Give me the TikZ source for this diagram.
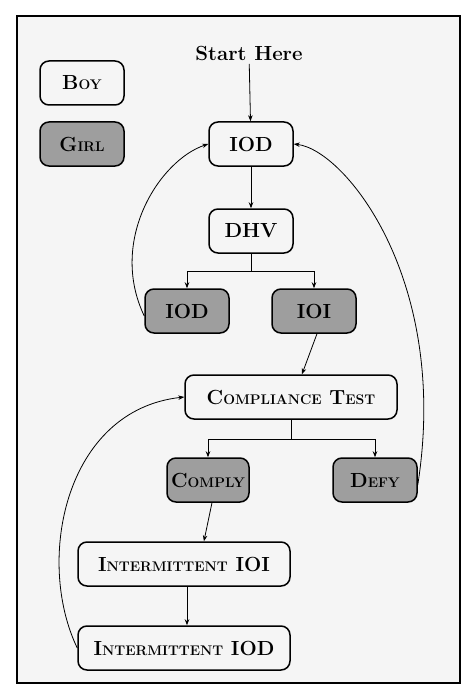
\documentclass[tikz,border=0pt]{standalone}
\usepackage{tikz}
\usetikzlibrary{positioning,arrows.meta}
\newcommand{\smcap}[2]{#1{\fontsize{14}{14}\selectfont #2}}

\begin{document}
\begin{tikzpicture}[x=1bp,y=-1bp,>={Stealth[length=6bp,width=4.5bp]}]
    \tikzstyle{state}=[draw=black,rounded corners=9bp,line width=1.5bp,minimum width=84bp,minimum height=44bp,inner sep=0pt,font=\bfseries\fontsize{20.5}{20.5}\selectfont]
    \tikzstyle{boy state}=[state,fill=black!4]
    \tikzstyle{girl state}=[state,fill=black!38]
    \tikzstyle{long state}=[boy state,minimum width=212bp]
    \tikzstyle{link}=[->,draw=black,line width=0.8bp]

    \useasboundingbox (0,0) rectangle (464,687);
    % Draw the frame
    \draw[line width=1.5bp,fill=black!4] (17,16) rectangle (460,683);

    % Draw the key
    \node[boy state] (key-boy) at (82,83) {\smcap{B}{OY}};
    \node[girl state] (key-girl) at (82,144) {\smcap{G}{IRL}};

    % Draw the first rounds
    \node[font=\bfseries\fontsize{20.5}{20.5}\selectfont] (start) at (249,53) {Start Here};
    \node[boy state] (IOD) at (251,144) {IOD};
    \node[boy state] (DHV) at (251,231) {DHV};
    \node[girl state] (IOD-g) at (187,311) {IOD};
    \node[girl state] (IOI-g) at (314,311) {IOI};

    % Draw the test and the answers
    \node[long state] (test) at (291,397) {\smcap{C}{OMPLIANCE} \smcap{T}{EST}};
    \node[girl state,minimum width=82bp] (comply) at (208,480) {\smcap{C}{OMPLY}};
    \node[girl state] (defy) at (375,480) {\smcap{D}{EFY}};
    \node[long state] (int-IOI) at (184,564) {\smcap{I}{NTERMITTENT} IOI};
    \node[long state] (int-IOD) at (184,648) {\smcap{I}{NTERMITTENT} IOD};

    % Straight links
    \draw[link] (start) -- (IOD);
    \draw[link] (IOD) -- (DHV);
    \foreach \dest in {IOD-g,IOI-g}
        \draw[link] (DHV.south) -- ++(0,18) -| (\dest.north);
    \foreach \dest in {comply,defy}
        \draw[link] (test.south) -- ++(0,20) -| (\dest.north);
    \draw[link] ([xshift=3]IOI-g.south) -- ([xshift=11]test.north);
    \draw[link] ([xshift=4]comply.south) -- ([xshift=20]int-IOI.north);
    \draw[link] ([xshift=3]int-IOI.south) -- ([xshift=3]int-IOD.north);

    % Loops back
    \draw[link] ([yshift=-5]IOD-g.west) .. controls (108,240) and (160,160) .. (IOD.west);
    \draw[link] ([yshift=-5]defy.east) .. controls (450,280) and (345,150) .. (IOD.east);
    \draw[link] (int-IOD.west) .. controls (35,560) and (65,410) .. (test.west);
\end{tikzpicture}
\end{document}
